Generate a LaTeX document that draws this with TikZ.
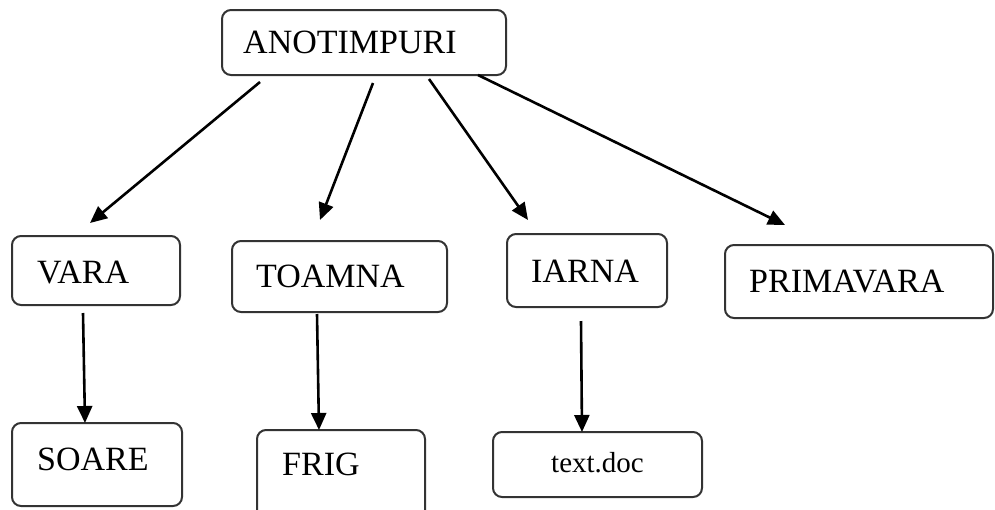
\documentclass[tikz,border=0pt]{standalone}
\usepackage{fontspec}
\setmainfont{Liberation Serif}
\usetikzlibrary{arrows.meta}
\tikzset{
  box/.style={draw=black!80, line width=2pt, rounded corners=9pt, fill=white},
  lbl/.style={anchor=base west, inner sep=0pt, font=\fontsize{34}{37}\selectfont},
  arr/.style={draw=black, line width=2.6pt, -{Triangle[length=17pt,width=15pt]}}
}
\begin{document}
\begin{tikzpicture}[x=1pt,y=-1pt]
\useasboundingbox (0,0) rectangle (995,509);
% boxes
\draw[box] (222,10) rectangle (506,75);
\node[lbl] (anot) at (243,53) {ANOTIMPURI};
\draw[box] (12,236) rectangle (180,305);
\node[lbl] (vara) at (37,283) {VARA};
\draw[box] (232,241) rectangle (447,312);
\node[lbl] (toamna) at (256,287) {TOAMNA};
\draw[box] (507,234) rectangle (667,307);
\node[lbl] (iarna) at (531,282) {IARNA};
\draw[box] (725,245) rectangle (993,318);
\node[lbl] (prima) at (749,292) {PRIMAVARA};
\draw[box] (12,423) rectangle (182,506);
\node[lbl] (soare) at (37,470) {SOARE};
\draw[box] (257,430) rectangle (425,520);
\node[lbl] (frig) at (282,475) {FRIG};
\draw[box] (493,432) rectangle (702,497);
\node[lbl, font=\fontsize{29}{32}\selectfont] (doc) at (551,472) {text.doc};
% arrow end points
\coordinate (a1s) at (260,82);  \coordinate (a1e) at (90,223);
\coordinate (a2s) at (373,83);  \coordinate (a2e) at (320,220);
\coordinate (a3s) at (429,79);  \coordinate (a3e) at (528,220);
\coordinate (a4s) at (478,75);  \coordinate (a4e) at (785,225);
\coordinate (v1s) at (83,313);  \coordinate (v1e) at (85,423);
\coordinate (v2s) at (317,314); \coordinate (v2e) at (319,430);
\coordinate (v3s) at (581,321); \coordinate (v3e) at (582,432);
\draw[arr] (a1s) -- (a1e);
\draw[arr] (a2s) -- (a2e);
\draw[arr] (a3s) -- (a3e);
\draw[arr] (a4s) -- (a4e);
\draw[arr] (v1s) -- (v1e);
\draw[arr] (v2s) -- (v2e);
\draw[arr] (v3s) -- (v3e);
\end{tikzpicture}
\end{document}
